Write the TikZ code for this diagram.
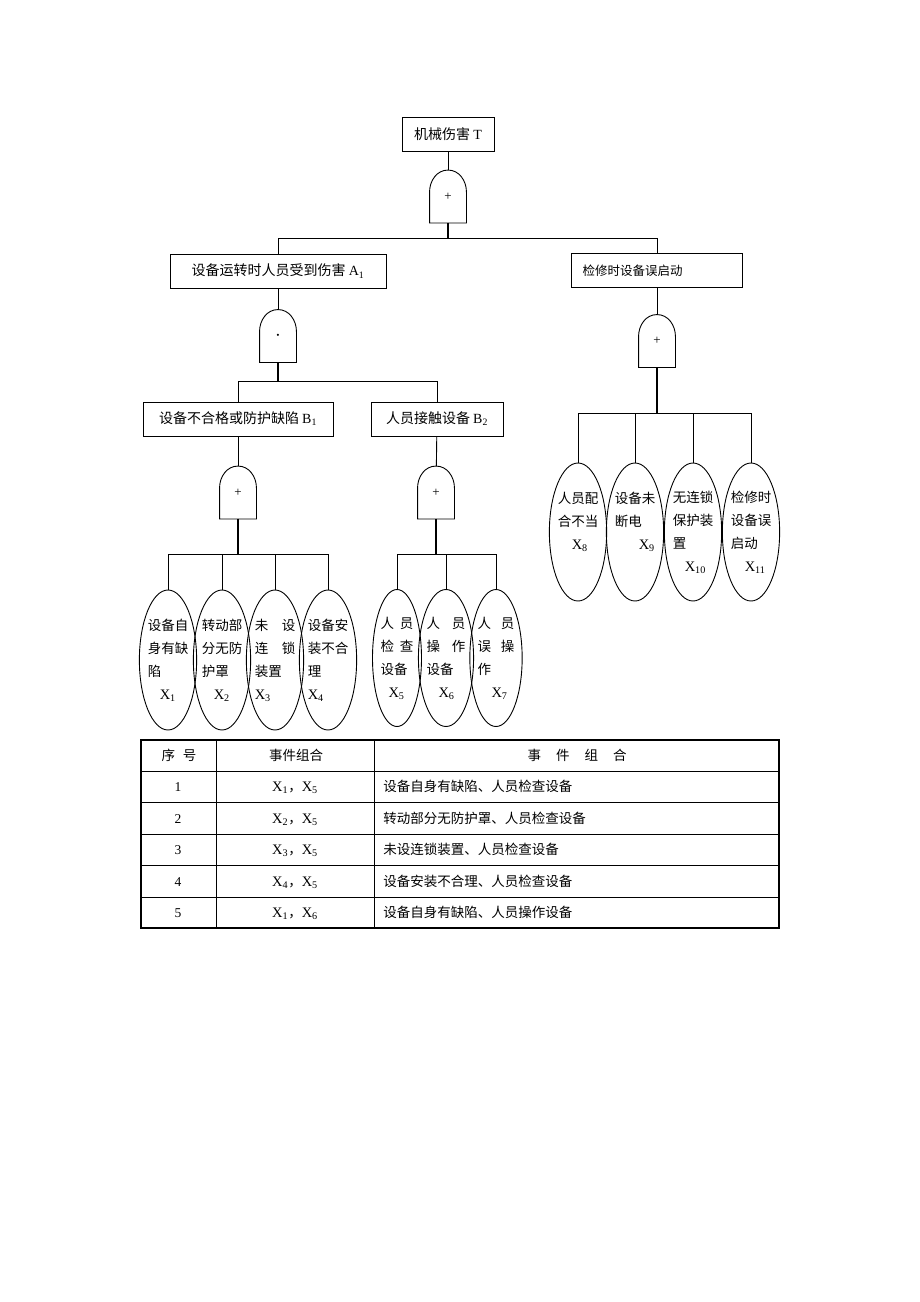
\documentclass[tikz,border=0pt]{standalone}
\usepackage{fontspec}
\setmainfont{Liberation Serif}
\newfontfamily\cjk{Noto Sans CJK SC}
\usetikzlibrary{shapes.geometric}
\newcommand{\xev}[1]{{\rmfamily\fontsize{14.5}{14.5}\selectfont X\textsubscript{#1}}}

\begin{document}
\begin{tikzpicture}[x=1pt,y=-1pt,line width=0.9pt,
                    evt/.style={draw,rectangle,minimum height=34pt,inner sep=0pt,
                    font=\cjk\fontsize{14}{14}\selectfont},
                    gate/.style={minimum width=36pt,minimum height=52pt,inner sep=0pt,
                    font=\fontsize{13}{13}\selectfont},
                    leaf/.style={draw,ellipse,minimum width=54pt,minimum height=140pt,
                    inner sep=0pt,align=left,font=\cjk\fontsize{13.5}{23}\selectfont},
                    stem/.style={line width=1.6pt},
                    cell/.style={inner sep=0pt,anchor=base,
                    font=\cjk\fontsize{13.5}{13.5}\selectfont}]
    \useasboundingbox (0,0) rectangle (920,1302);

    % events and gates
    \node[evt,minimum width=92pt] (T) at (448,134.5) {机械伤害 {\rmfamily T}};
    \node[gate] (g0) at (448,196.5) {+};
    \node[evt,minimum width=216pt] (A1) at (278,271) {设备运转时人员受到伤害 {\rmfamily A\textsubscript{1}}};
    \node[evt,minimum width=171pt,text width=149pt,align=left,
          font=\cjk\fontsize{12.5}{12.5}\selectfont] (A2) at (657,270.5) {检修时设备误启动};
    \node[gate,font=\fontsize{22}{22}\selectfont] (g1) at (278,336) {$\cdot$};
    \node[gate] (g4) at (657,341) {+};
    \node[evt,minimum width=190pt] (B1) at (238,419) {设备不合格或防护缺陷 {\rmfamily B\textsubscript{1}}};
    \node[evt,minimum width=132pt] (B2) at (437,419) {人员接触设备 {\rmfamily B\textsubscript{2}}};
    \node[gate] (g2) at (238,492.5) {+};
    \node[gate] (g3) at (436,492.5) {+};

    \foreach \g in {g0,g1,g2,g3,g4}
        \draw (\g.south west) -- ([yshift=-22pt]\g.north west) to[out=90,in=180] (\g.north)
              to[out=0,in=90] ([yshift=-22pt]\g.north east) -- (\g.south east) -- cycle;

    % basic events
    \node[leaf] (X1) at (168,660) {设备自\\身有缺\\陷\\\hspace*{12pt}\xev{1}};
    \node[leaf] (X2) at (222,660) {转动部\\分无防\\护罩\\\hspace*{12pt}\xev{2}};
    \node[leaf] (X3) at (275,660) {未\quad 设\\连\quad 锁\\装置\\\xev{3}};
    \node[leaf] (X4) at (328,660) {设备安\\装不合\\理\\\xev{4}};
    \node[leaf,minimum width=49pt,minimum height=137pt] (X5) at (397,658) {人\hspace{6pt}员\\检\hspace{6pt}查\\设备\\\hspace*{8pt}\xev{5}};
    \node[leaf,minimum width=49pt,minimum height=137pt] (X6) at (446,658) {人\hspace{12pt}员\\操\hspace{12pt}作\\设备\\\hspace*{12pt}\xev{6}};
    \node[leaf,minimum width=49pt,minimum height=137pt] (X7) at (496,658) {人\hspace{10pt}员\\误\hspace{10pt}操\\作\\\hspace*{14pt}\xev{7}};
    \node[leaf,minimum width=55pt,minimum height=138pt] (X8) at (578,532) {人员配\\合不当\\\hspace*{14pt}\xev{8}\\\mbox{}};
    \node[leaf,minimum width=55pt,minimum height=138pt] (X9) at (635,532) {设备未\\断电\\\hspace*{24pt}\xev{9}\\\mbox{}};
    \node[leaf,minimum width=55pt,minimum height=138pt] (X10) at (693,532) {无连锁\\保护装\\置\\\hspace*{12pt}\xev{10}};
    \node[leaf,minimum width=55pt,minimum height=138pt] (X11) at (751,532) {检修时\\设备误\\启动\\\hspace*{14pt}\xev{11}};

    % connectors
    \draw (T) -- (g0);
    \draw[stem] (g0.south) -- ++(0,15.5) coordinate (b0);
    \draw (b0) -| (A1.north);
    \draw (b0) -| (A2.north);
    \draw (A1) -- (g1);
    \draw (A2) -- (g4);
    \draw[stem] (g1.south) -- ++(0,19) coordinate (b1);
    \draw (b1) -| (B1.north);
    \draw (b1) -| (B2.north);
    \draw (B1) -- (g2);
    \draw (B2) -- (g3);
    \draw[stem] (g2.south) -- ++(0,35.5) coordinate (b2);
    \foreach \x in {X1,X2,X3,X4} \draw (b2) -| (\x.north);
    \draw[stem] (g3.south) -- ++(0,35.5) coordinate (b3);
    \foreach \x in {X5,X6,X7} \draw (b3) -| (\x.north);
    \draw[stem] (g4.south) -- ++(0,46) coordinate (b4);
    \foreach \x in {X8,X9,X10,X11} \draw (b4) -| (\x.north);

    % minimal cut sets
    \draw[line width=1.6pt] (141,740) rectangle (779,928);
    \foreach \y in {771,802.5,834,865.5,897} \draw (141,\y) -- (779,\y);
    \draw (216,740) -- (216,928);
    \draw (374,740) -- (374,928);
    \node[cell] (h1) at (179,760) {序\hspace{8pt}号};
    \node[cell] (h2) at (296,760) {事件组合};
    \node[cell] (h3) at (577,760) {事\hspace{15pt}件\hspace{15pt}组\hspace{15pt}合};
    \foreach \i/\pa/\pb/\txt in {1/1/5/设备自身有缺陷、人员检查设备,
                                 2/2/5/转动部分无防护罩、人员检查设备,
                                 3/3/5/未设连锁装置、人员检查设备,
                                 4/4/5/设备安装不合理、人员检查设备,
                                 5/1/6/设备自身有缺陷、人员操作设备}
    {
        \node[cell] (n\i) at (178,760+31.5*\i) {{\rmfamily\i}};
        \node[cell] (c\i) at (295,760+31.5*\i) {\xev{\pa}，\xev{\pb}};
        \node[cell,anchor=base west] (d\i) at (383,760+31.5*\i) {\txt};
    }
\end{tikzpicture}
\end{document}
